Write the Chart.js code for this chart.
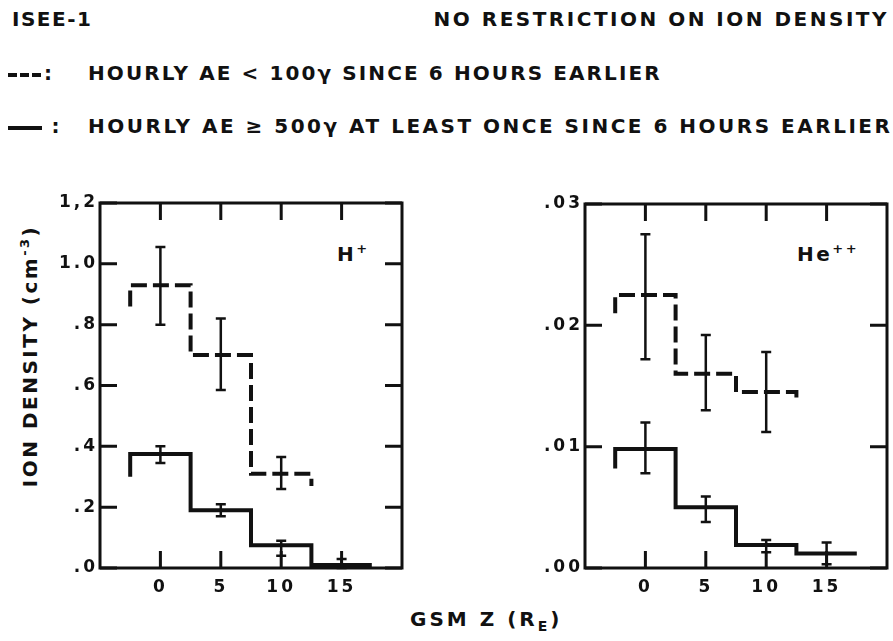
<!DOCTYPE html>
<html lang="en">
<head>
    <meta charset="UTF-8">
    <title>ISEE-1 ion density vs GSM Z</title>
    <script src="https://cdn.jsdelivr.net/npm/chart.js"></script>
    <style>
        body {
            margin: 0;
            width: 893px;
            height: 641px;
            background: #fff;
            position: relative;
            overflow: hidden;
            font-family: 'DejaVu Sans', sans-serif;
            font-weight: bold;
            color: #111;
        }
        .txt {
            position: absolute;
            white-space: nowrap;
            font-size: 20px;
            letter-spacing: 2.5px;
            line-height: 1;
        }
        .panel {
            position: absolute;
        }
        .dash {
            display: inline-block;
            width: 9px;
            height: 4px;
            background: #111;
            margin-right: 3px;
            vertical-align: middle;
        }
        .solid {
            display: inline-block;
            width: 34px;
            height: 4px;
            background: #111;
            vertical-align: middle;
        }
        sup { font-size: 13px; }
    </style>
</head>
<body>
    <div class="txt" style="left:12px; top:9px; letter-spacing:1.5px;">ISEE-1</div>
    <div class="txt" style="right:4px; top:9px;">NO RESTRICTION ON ION DENSITY</div>

    <div class="txt" style="left:8px; top:63px;">
        <span class="dash"></span><span class="dash"></span><span class="dash"></span>:
    </div>
    <div class="txt" style="left:88px; top:63px; letter-spacing:2.1px;">HOURLY AE &lt; 100&gamma; SINCE 6 HOURS EARLIER</div>
    <div class="txt" style="left:8px; top:116px;"><span class="solid"></span>&nbsp;:</div>
    <div class="txt" style="left:88px; top:116px;">HOURLY AE &ge; 500&gamma; AT LEAST ONCE SINCE 6 HOURS EARLIER</div>

    <div class="txt" style="left:29px; top:356px; letter-spacing:2.5px; transform: translate(-50%, -50%) rotate(-90deg);">ION DENSITY (cm<sup>-3</sup>)</div>
    <div class="txt" style="left:410px; top:609px; letter-spacing:3px;">GSM Z (R<sub style="font-size:14px;">E</sub>)</div>

    <div class="txt" style="left:337px; top:242px;">H<sup>+</sup></div>
    <div class="txt" style="left:797px; top:242px;">He<sup>++</sup></div>

    <div class="panel" style="left:0; top:180px; width:420px; height:440px;"><canvas id="hChart"></canvas></div>
    <div class="panel" style="left:470px; top:180px; width:423px; height:440px;"><canvas id="heChart"></canvas></div>

    <script>
        // bin centers (GSM Z, Re), each bin is 5 Re wide
        const zCenters = [0, 5, 10, 15];
        const binHalf = 2.5;
        const xTicks = [0, 5, 10, 15];

        // H+ : quiet (AE < 100) dashed
        const hQuiet = [0.93, 0.70, 0.31];
        const hQuietLo = [0.80, 0.585, 0.26];
        const hQuietHi = [1.055, 0.82, 0.365];
        const hQuietTails = [0.86, 0.27];
        // H+ : active (AE >= 500) solid
        const hActive = [0.375, 0.19, 0.075, 0.01];
        const hActiveLo = [0.345, 0.17, 0.04, 0.0];
        const hActiveHi = [0.40, 0.21, 0.09, 0.03];
        const hActiveTails = [0.30, 0.01];
        const hYTicks = [0, 0.2, 0.4, 0.6, 0.8, 1.0, 1.2];
        const hYLabels = ['.0', '.2', '.4', '.6', '.8', '1.0', '1,2'];

        // He++ : quiet dashed
        const heQuiet = [0.0225, 0.016, 0.0145];
        const heQuietLo = [0.0172, 0.013, 0.0112];
        const heQuietHi = [0.0275, 0.0192, 0.0178];
        const heQuietTails = [0.021, 0.0138];
        // He++ : active solid
        const heActive = [0.0098, 0.005, 0.0019, 0.0012];
        const heActiveLo = [0.0078, 0.0038, 0.0013, 0.0003];
        const heActiveHi = [0.012, 0.0059, 0.0023, 0.0021];
        const heActiveTails = [0.0082, 0.0012];
        const heYTicks = [0, 0.01, 0.02, 0.03];
        const heYLabels = ['.00', '.01', '.02', '.03'];

        const ink = '#111';
        const tickFont = { family: "'DejaVu Sans', sans-serif", size: 17, weight: 'bold' };

        // histogram outline: little drop at each end, then flat bins
        function stepPoints(vals, tails) {
            const pts = [];
            pts.push({ x: zCenters[0] - binHalf, y: tails[0] });
            vals.forEach((v, i) => {
                pts.push({ x: zCenters[i] - binHalf, y: v });
                pts.push({ x: zCenters[i] + binHalf, y: v });
            });
            pts.push({ x: zCenters[vals.length - 1] + binHalf, y: tails[1] });
            return pts;
        }

        // spaced-out tick labels like the typed original
        const spacingPlugin = {
            id: 'spacing',
            beforeDraw(chart) { chart.ctx.letterSpacing = '3px'; }
        };

        // frame with inward ticks, and error bars
        const framePlugin = {
            id: 'frame',
            afterDatasetsDraw(chart) {
                const { ctx, chartArea: a, scales } = chart;
                ctx.save();
                ctx.strokeStyle = ink;
                ctx.lineCap = 'butt';

                // error bars
                ctx.lineWidth = 2.5;
                chart.options.plugins.frame.bars.forEach(set => {
                    set.lo.forEach((lo, i) => {
                        const px = scales.x.getPixelForValue(zCenters[i]);
                        const y1 = scales.y.getPixelForValue(lo);
                        const y2 = scales.y.getPixelForValue(set.hi[i]);
                        ctx.beginPath();
                        ctx.moveTo(px, y1); ctx.lineTo(px, y2);
                        ctx.moveTo(px - 5, y1); ctx.lineTo(px + 5, y1);
                        ctx.moveTo(px - 5, y2); ctx.lineTo(px + 5, y2);
                        ctx.stroke();
                    });
                });

                ctx.lineWidth = 3;
                ctx.strokeRect(a.left, a.top, a.right - a.left, a.bottom - a.top);
                const len = 17;
                ctx.beginPath();
                scales.x.ticks.forEach(t => {
                    const px = scales.x.getPixelForValue(t.value);
                    ctx.moveTo(px, a.top); ctx.lineTo(px, a.top + len);
                    ctx.moveTo(px, a.bottom); ctx.lineTo(px, a.bottom - len);
                });
                scales.y.ticks.forEach(t => {
                    const py = scales.y.getPixelForValue(t.value);
                    ctx.moveTo(a.left, py); ctx.lineTo(a.left + len, py);
                    ctx.moveTo(a.right, py); ctx.lineTo(a.right - len, py);
                });
                ctx.stroke();
                ctx.restore();
            }
        };

        function makeChart(id, cfg) {
            return new Chart(document.getElementById(id), {
                type: 'line',
                data: {
                    datasets: [
                        {
                            data: stepPoints(cfg.quiet, cfg.quietTails),
                            borderColor: ink,
                            borderWidth: 4,
                            borderDash: [16, 6],
                            pointRadius: 0,
                            tension: 0,
                            fill: false
                        },
                        {
                            data: stepPoints(cfg.active, cfg.activeTails),
                            borderColor: ink,
                            borderWidth: 4,
                            pointRadius: 0,
                            tension: 0,
                            fill: false
                        }
                    ]
                },
                options: {
                    responsive: true,
                    maintainAspectRatio: false,
                    animation: false,
                    layout: { padding: cfg.padding },
                    plugins: {
                        legend: { display: false },
                        tooltip: { enabled: false },
                        frame: {
                            bars: [
                                { lo: cfg.quietLo, hi: cfg.quietHi },
                                { lo: cfg.activeLo, hi: cfg.activeHi }
                            ]
                        }
                    },
                    scales: {
                        x: {
                            type: 'linear',
                            min: -5,
                            max: 20,
                            grid: { display: false, drawTicks: false },
                            border: { display: false },
                            afterBuildTicks: s => { s.ticks = xTicks.map(v => ({ value: v })); },
                            afterFit: s => { s.height = 40; },
                            ticks: { color: ink, font: tickFont, padding: 9, maxRotation: 0 }
                        },
                        y: {
                            type: 'linear',
                            min: cfg.yTicks[0],
                            max: cfg.yTicks[cfg.yTicks.length - 1],
                            grid: { display: false, drawTicks: false },
                            border: { display: false },
                            afterBuildTicks: s => { s.ticks = cfg.yTicks.map(v => ({ value: v })); },
                            afterFit: s => { s.width = cfg.yWidth; },
                            ticks: {
                                color: ink,
                                font: tickFont,
                                padding: 2,
                                callback: (v) => {
                                    const i = cfg.yTicks.findIndex(t => Math.abs(t - v) < 1e-9);
                                    return i >= 0 ? cfg.yLabels[i] : '';
                                }
                            }
                        }
                    }
                },
                plugins: [spacingPlugin, framePlugin]
            });
        }

        makeChart('hChart', {
            quiet: hQuiet, quietLo: hQuietLo, quietHi: hQuietHi, quietTails: hQuietTails,
            active: hActive, activeLo: hActiveLo, activeHi: hActiveHi, activeTails: hActiveTails,
            yTicks: hYTicks, yLabels: hYLabels, yWidth: 100,
            padding: { left: 0, top: 23, right: 18, bottom: 12 }
        });

        makeChart('heChart', {
            quiet: heQuiet, quietLo: heQuietLo, quietHi: heQuietHi, quietTails: heQuietTails,
            active: heActive, activeLo: heActiveLo, activeHi: heActiveHi, activeTails: heActiveTails,
            yTicks: heYTicks, yLabels: heYLabels, yWidth: 115,
            padding: { left: 0, top: 24, right: 6, bottom: 12 }
        });
    </script>
</body>
</html>
